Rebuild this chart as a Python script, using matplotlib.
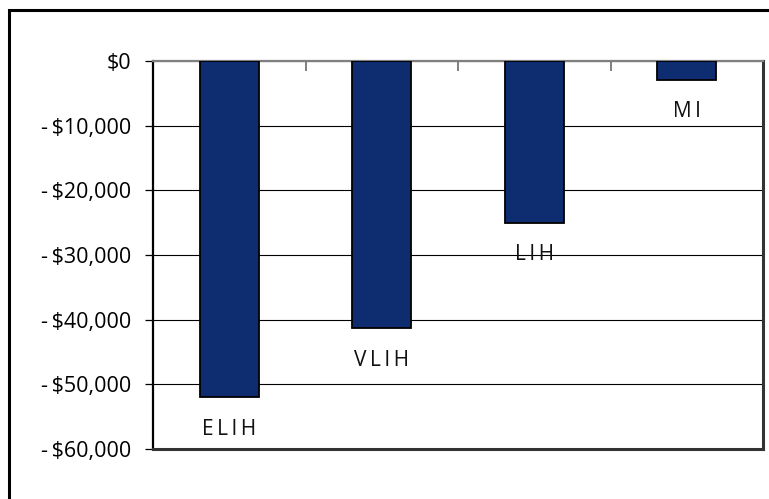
import matplotlib.pyplot as plt
import matplotlib.ticker as mticker
from matplotlib.patches import Rectangle

# data
categories = ['ELIH', 'VLIH', 'LIH', 'MI']
values = [-52000, -41300, -25000, -2900]
yticks = [0, -10000, -20000, -30000, -40000, -50000, -60000]

plt.rcParams['font.family'] = ['Open Sans', 'DejaVu Sans']

W, H = 769, 499
fig = plt.figure(figsize=(W / 100, H / 100), dpi=100)

# outer frame (cut at right/bottom like the original)
fig.add_artist(Rectangle((9 / W, -0.05), 1.2, (H - 10) / H + 0.05,
                         transform=fig.transFigure, fill=False,
                         edgecolor='black', linewidth=2.2))

# plot area in pixels: x 153..763, y 61..449
ax = fig.add_axes([153 / W, 1 - 449 / H, (763 - 153) / W, (449 - 61) / H])

x = list(range(len(categories)))
ax.bar(x, values, width=0.39, color='#0d2d70', edgecolor='black',
       linewidth=1.3, zorder=3)

ax.set_xlim(-0.5, len(categories) - 0.5)
ax.set_ylim(-60000, 0)
ax.set_yticks(yticks)
ax.yaxis.set_major_formatter(mticker.FuncFormatter(
    lambda v, p: ('-\u2009' if v < 0 else '') + '${:,.0f}'.format(abs(v))))
ax.tick_params(axis='y', length=6, width=0.9, direction='out', labelsize=15.5,
               pad=10, colors='black')
ax.grid(axis='y', color='black', linewidth=0.8, zorder=1)

# category ticks along the zero line at boundaries
ax.set_xticks([i + 0.5 for i in x[:-1]])
ax.set_xticklabels([])
ax.xaxis.set_ticks_position('top')
ax.tick_params(axis='x', length=7, width=1.4, direction='in', color='#808080')

ax.spines['left'].set_color('black')
ax.spines['left'].set_linewidth(1.6)
for s in ['right', 'bottom']:
    ax.spines[s].set_color('#333333')
    ax.spines[s].set_linewidth(2.2)
ax.spines['top'].set_color('#808080')
ax.spines['top'].set_linewidth(1.6)

# category labels below bar ends (spaced out letters)
for xi, v, c in zip(x, values, categories):
    ax.annotate('\u2009'.join(c), (xi, v), xytext=(0, -23),
                textcoords='offset points', ha='center', va='center',
                fontsize=15, color='#111111', zorder=4)

plt.savefig('out.png', dpi=100)
plt.close()
